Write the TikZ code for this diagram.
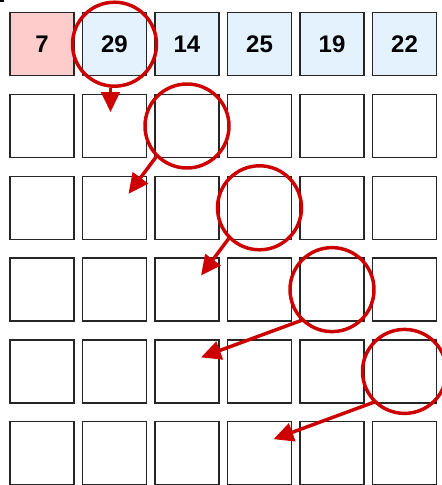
\documentclass[tikz,border=0pt]{standalone}
\usepackage{fontspec}
\setmainfont{Liberation Sans}
\usetikzlibrary{arrows.meta,calc}
\definecolor{pinkfill}{HTML}{FFCCCC}
\definecolor{bluefill}{HTML}{E3F2FD}
\definecolor{ringred}{HTML}{CC0000}
\begin{document}
\begin{tikzpicture}[x=0.75pt,y=-0.75pt,
  cell/.style={draw=black!85, line width=1pt, minimum width=48pt, minimum height=47.25pt,
    inner sep=0pt, outer sep=0pt, font=\bfseries\fontsize{18}{20}\selectfont},
  ring/.style={draw=ringred, line width=2.6pt, circle, minimum size=63pt, inner sep=0pt},
  arr/.style={draw=ringred, line width=2.6pt, -{Triangle[length=15pt,width=14pt]}}]
\useasboundingbox (0,0) rectangle (442,485);
\fill[black] (0,0) rectangle (4,2);
% top row
\foreach \c/\v/\f in {0/7/pinkfill,1/29/bluefill,2/14/bluefill,3/25/bluefill,4/19/bluefill,5/22/bluefill}
  \node[cell, fill=\f] (b-0-\c) at ({42+72.5*\c},44.2) {\v};
% empty rows
\foreach \r in {1,...,5}
  \foreach \c in {0,...,5}
    \node[cell] (b-\r-\c) at ({42+72.5*\c},{44.2+81.8*\r}) {};
% circles
\foreach \r in {0,...,4}{
  \pgfmathtruncatemacro\cc{\r+1}
  \node[ring] (c-\r) at (b-\r-\cc) {};
}
% arrow tips
\coordinate (t1) at ($(b-1-1)+(-4,-14)$);
\coordinate (t2) at ($(b-2-1)+(14,-14)$);
\coordinate (t3) at ($(b-3-2)+(14,-14)$);
\coordinate (t4) at ($(b-4-2)+(14,-14)$);
\coordinate (t5) at ($(b-5-3)+(14,-14)$);
\draw[arr] (c-0.south -| t1) -- (t1);
\draw[arr] (c-1.225) -- (t2);
\draw[arr] (c-2.225) -- (t3);
\draw[arr] (c-3.225) -- (t4);
\draw[arr] (c-4.225) -- (t5);
\end{tikzpicture}
\end{document}
